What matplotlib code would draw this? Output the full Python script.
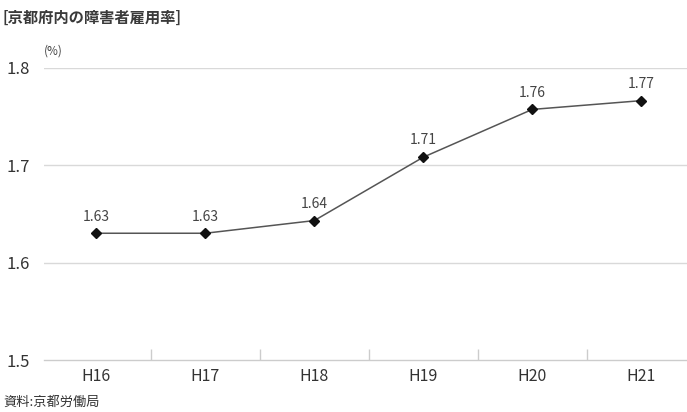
import matplotlib
matplotlib.use("Agg")
import matplotlib.pyplot as plt

plt.rcParams['font.family'] = ['Noto Sans CJK JP', 'DejaVu Sans']

# data
years = ["H16", "H17", "H18", "H19", "H20", "H21"]
rates = [1.63, 1.63, 1.643, 1.708, 1.757, 1.766]
rate_labels = ["1.63", "1.63", "1.64", "1.71", "1.76", "1.77"]
y_ticks = [1.5, 1.6, 1.7, 1.8]

fig = plt.figure(figsize=(6.87, 4.12), dpi=100)
ax = fig.add_axes([44 / 687, 1 - 360 / 412, 1 - 44 / 687, (360 - 67.5) / 412])

x = list(range(len(years)))
ax.plot(x, rates, color='#555555', lw=1.1, marker='D', ms=5.5,
        mfc='#111111', mec='#111111', zorder=3)
for xi, yi, lab in zip(x, rates, rate_labels):
    ax.annotate(lab, (xi, yi), xytext=(0, 7), textcoords='offset points',
                ha='center', va='bottom', fontsize=10, color='#444444')

ax.set_xlim(-0.48, 5.42)
ax.set_ylim(1.5, 1.8)
ax.set_yticks(y_ticks)
ax.set_yticklabels([str(v) for v in y_ticks], fontsize=12, color='#333333')
for v in y_ticks[1:]:
    ax.axhline(v, color='#d9d9d9', lw=1.0, zorder=1)

ax.set_xticks(x)
ax.set_xticklabels(years, fontsize=11.5, color='#333333')
ax.tick_params(axis='x', length=0, pad=6)
ax.tick_params(axis='y', length=0, pad=10)
ax.set_xticks([i + 0.5 for i in range(len(years) - 1)], minor=True)
ax.tick_params(axis='x', which='minor', direction='in', length=8,
               color='#cccccc', width=1.0)

for s in ['top', 'right', 'left']:
    ax.spines[s].set_visible(False)
ax.spines['bottom'].set_color('#cccccc')
ax.spines['bottom'].set_linewidth(1.0)

fig.text(3 / 687, 1 - 18 / 412, "[京都府内の障害者雇用率]", fontsize=11,
         color='#3a3a3a', va='center', ha='left', fontweight='bold')
fig.text(44 / 687, 1 - 51 / 412, "(%)", fontsize=8.5, color='#444444',
         va='center', ha='left')
fig.text(3 / 687, 1 - 402 / 412, "資料:京都労働局", fontsize=9.5,
         color='#333333', va='center', ha='left')

fig.savefig("out.png", dpi=100)
